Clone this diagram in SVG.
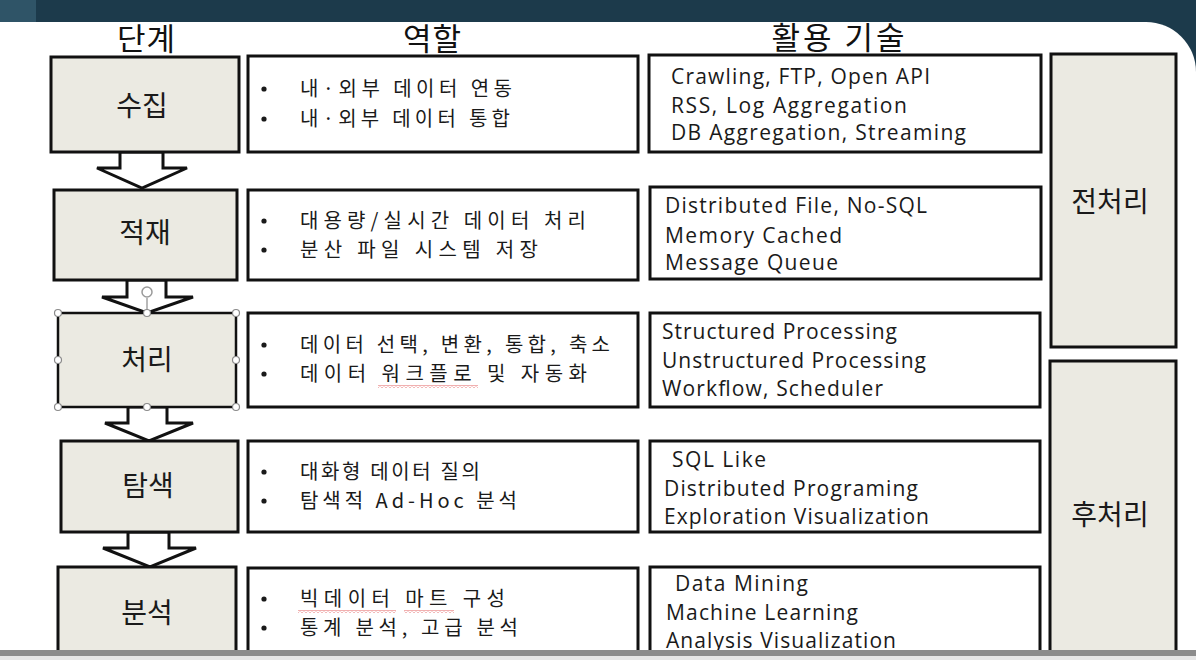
<svg xmlns="http://www.w3.org/2000/svg" width="1196" height="660" viewBox="0 0 1196 660">
<style>
.box{fill:#ebeae2;stroke:#111;stroke-width:3}
.wbox{fill:#fff;stroke:#111;stroke-width:3}
.arrow{fill:#fff;stroke:#111;stroke-width:3;stroke-linejoin:miter}
.hdr{font-family:"Noto Sans CJK KR","Noto Sans CJK SC",sans-serif;font-size:31px;fill:#111;text-anchor:middle}
.lbl{font-family:"Noto Sans CJK KR","Noto Sans CJK SC",sans-serif;font-size:28px;fill:#1a1a1a;text-anchor:middle}
.ko{font-family:"Noto Sans CJK KR","Noto Sans CJK SC",sans-serif;font-size:20px;fill:#1a1a1a}
.en{font-family:"Open Sans","Liberation Sans",sans-serif;font-size:21px;fill:#1a1a1a}
.bul{fill:#1a1a1a}
.hd{fill:#fff;stroke:#8a8a8a;stroke-width:1.2}
</style>
<defs>
<pattern id="wavy" width="4" height="3" patternUnits="userSpaceOnUse"><path d="M0,2.5 L2,0.5 L4,2.5" stroke="#e05050" fill="none" stroke-width="0.9"/></pattern>
</defs>
<!-- background -->
<rect x="0" y="0" width="1196" height="660" fill="#1c3a4b"/>
<rect x="0" y="0" width="36" height="24" fill="#2f5467"/>
<path d="M0,22 H1146 A50,50 0 0 1 1196,72 V660 H0 Z" fill="#ffffff"/>

<!-- headers -->
<g id="headers">
<text class="hdr" x="146" y="50" textLength="58">단계</text>
<text class="hdr" x="432" y="50" textLength="58">역할</text>
<text class="hdr" x="838" y="49" textLength="133">활용 기술</text>
</g>

<!-- connectors -->
<g id="connectors">
<polygon class="arrow" points="120,152 163,152 163,168 187,168 142,188 97,168 120,168"/>
<polygon class="arrow" points="127,280 166,280 166,297 193,297 147,313 102,297 127,297"/>
<polygon class="arrow" points="128,407 167,407 167,423 193,423 149,441 105,423 128,423"/>
<polygon class="arrow" points="128,532 169,532 169,548 196,548 150,567 103,548 128,548"/>
</g>

<!-- stage nodes -->
<g id="stage-collect"><rect class="box" x="51" y="57" width="188" height="95"/><text class="lbl" x="142" y="116">수집</text></g>
<g id="stage-store"><rect class="box" x="54" y="190" width="183" height="90"/><text class="lbl" x="145" y="243">적재</text></g>
<g id="stage-process"><rect class="box" x="58" y="313" width="178" height="94" style="stroke-width:2.5"/><text class="lbl" x="147" y="370">처리</text>
<line x1="147" y1="298" x2="147" y2="313" stroke="#8a8a8a" stroke-width="1.2"/>
<circle cx="147" cy="292" r="5" fill="#fff" stroke="#9a9a9a" stroke-width="1.5"/>
<circle class="hd" cx="58" cy="313" r="3.5"/><circle class="hd" cx="147" cy="313" r="3.5"/><circle class="hd" cx="236" cy="313" r="3.5"/>
<circle class="hd" cx="58" cy="360" r="3.5"/><circle class="hd" cx="236" cy="360" r="3.5"/>
<circle class="hd" cx="58" cy="407" r="3.5"/><circle class="hd" cx="147" cy="407" r="3.5"/><circle class="hd" cx="236" cy="407" r="3.5"/>
</g>
<g id="stage-explore"><rect class="box" x="61" y="441" width="177" height="91"/><text class="lbl" x="148" y="496">탐색</text></g>
<g id="stage-analyze"><rect class="box" x="58" y="567" width="178" height="100"/><text class="lbl" x="147" y="623">분석</text></g>

<!-- role nodes -->
<g id="role-collect"><rect class="wbox" x="248" y="56" width="390" height="96"/>
<circle class="bul" cx="264" cy="89" r="2.6"/><text class="ko" x="300" y="96" textLength="212">내·외부 데이터 연동</text>
<circle class="bul" cx="264" cy="119" r="2.6"/><text class="ko" x="300" y="126" textLength="210">내·외부 데이터 통합</text></g>
<g id="role-store"><rect class="wbox" x="248" y="190" width="390" height="90"/>
<circle class="bul" cx="264" cy="221" r="2.6"/><text class="ko" x="300" y="228" textLength="286">대용량/실시간 데이터 처리</text>
<circle class="bul" cx="264" cy="250" r="2.6"/><text class="ko" x="300" y="257" textLength="238">분산 파일 시스템 저장</text></g>
<g id="role-process"><rect class="wbox" x="248" y="313" width="390" height="94"/>
<circle class="bul" cx="264" cy="345" r="2.6"/><text class="ko" x="300" y="352" textLength="310">데이터 선택, 변환, 통합, 축소</text>
<circle class="bul" cx="264" cy="374" r="2.6"/><text class="ko" x="300" y="381" textLength="287">데이터 워크플로 및 자동화</text>
<rect x="378" y="385" width="100" height="3" fill="url(#wavy)"/></g>
<g id="role-explore"><rect class="wbox" x="248" y="441" width="390" height="91"/>
<circle class="bul" cx="264" cy="472" r="2.6"/><text class="ko" x="300" y="479" textLength="180">대화형 데이터 질의</text>
<circle class="bul" cx="264" cy="501" r="2.6"/><text class="ko" x="300" y="508" textLength="217">탐색적 Ad-Hoc 분석</text></g>
<g id="role-analyze"><rect class="wbox" x="248" y="568" width="390" height="100"/>
<circle class="bul" cx="264" cy="599" r="2.6"/><text class="ko" x="300" y="606" textLength="205">빅데이터 마트 구성</text>
<circle class="bul" cx="264" cy="628" r="2.6"/><text class="ko" x="300" y="635" textLength="218">통계 분석, 고급 분석</text>
<rect x="298" y="610" width="98" height="3" fill="url(#wavy)"/><rect x="404" y="610" width="50" height="3" fill="url(#wavy)"/></g>

<!-- tech nodes -->
<g id="tech-collect"><rect class="wbox" x="649" y="55" width="392" height="97"/>
<text class="en" x="671" y="84" textLength="259">Crawling, FTP, Open API</text>
<text class="en" x="671" y="113" textLength="236">RSS, Log Aggregation</text>
<text class="en" x="671" y="140" textLength="295">DB Aggregation, Streaming</text></g>
<g id="tech-store"><rect class="wbox" x="650" y="187" width="391" height="92"/>
<text class="en" x="665" y="213" textLength="262">Distributed File, No-SQL</text>
<text class="en" x="665" y="243" textLength="177">Memory Cached</text>
<text class="en" x="665" y="270" textLength="173">Message Queue</text></g>
<g id="tech-process"><rect class="wbox" x="650" y="313" width="390" height="94"/>
<text class="en" x="662" y="339" textLength="235">Structured Processing</text>
<text class="en" x="662" y="368" textLength="264">Unstructured Processing</text>
<text class="en" x="662" y="396" textLength="221">Workflow, Scheduler</text></g>
<g id="tech-explore"><rect class="wbox" x="650" y="441" width="390" height="91"/>
<text class="en" x="672" y="467" textLength="94">SQL Like</text>
<text class="en" x="664" y="496" textLength="254">Distributed Programing</text>
<text class="en" x="664" y="524" textLength="265">Exploration Visualization</text></g>
<g id="tech-analyze"><rect class="wbox" x="650" y="567" width="390" height="100"/>
<text class="en" x="675" y="591" textLength="133">Data Mining</text>
<text class="en" x="666" y="620" textLength="192">Machine Learning</text>
<text class="en" x="666" y="648" textLength="230">Analysis Visualization</text></g>

<!-- phase nodes -->
<g id="phase-pre"><rect class="box" x="1051" y="54" width="125" height="293"/><text class="lbl" x="1110" y="212">전처리</text></g>
<g id="phase-post"><rect class="box" x="1050" y="361" width="126" height="310"/><text class="lbl" x="1110" y="525">후처리</text></g>

<!-- bottom bar -->
<rect x="0" y="650" width="1196" height="6" fill="#8c8c8c"/>
<rect x="0" y="656" width="1196" height="4" fill="#e6e6e6"/>
</svg>
